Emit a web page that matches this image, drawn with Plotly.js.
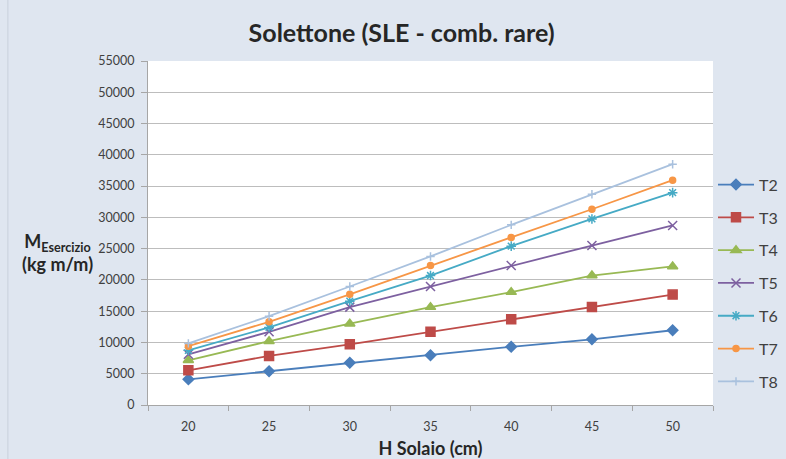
<!DOCTYPE html>
<html>
<head>
<meta charset="utf-8">
<script src="https://cdn.plot.ly/plotly-3.0.1.min.js"></script>
<style>html,body{margin:0;padding:0;background:#dfe6f0;}#chart{width:786px;height:459px;}</style>
</head>
<body>
<div id="chart"></div>
<script>
var categories = ["20", "25", "30", "35", "40", "45", "50"];
var seriesNames = ["T2", "T3", "T4", "T5", "T6", "T7", "T8"];
var T2 = [4100, 5400, 6750, 7950, 9300, 10500, 11950];
var T3 = [5550, 7850, 9700, 11700, 13700, 15650, 17650];
var T4 = [7150, 10200, 13000, 15650, 18050, 20700, 22150];
var T5 = [8100, 11700, 15650, 18950, 22300, 25500, 28700];
var T6 = [8750, 12400, 16600, 20700, 25400, 29750, 33950];
var T7 = [9400, 13300, 17700, 22300, 26800, 31300, 35950];
var T8 = [9850, 14200, 18950, 23750, 28800, 33700, 38500];
var yTickVals = [0, 5000, 10000, 15000, 20000, 25000, 30000, 35000, 40000, 45000, 50000, 55000];

var seriesValues = [T2, T3, T4, T5, T6, T7, T8];
var colors = ["#4a7ebb", "#be4b48", "#98b954", "#7d60a0", "#46aac5", "#f79646", "#a9c1de"];
var symbols = ["diamond", "square", "triangle-up", "x-thin-open", "asterisk-open", "circle", "cross-thin-open"];
var sizes = [8, 9, 9, 9, 8, 6, 6];

var data = seriesNames.map(function (name, i) {
  return {
    x: categories,
    y: seriesValues[i],
    name: name,
    type: "scatter",
    mode: "lines+markers",
    legendgroup: name,
    line: {color: colors[i], width: 1.8},
    marker: {symbol: symbols[i], size: sizes[i], color: colors[i], line: {color: colors[i], width: 1.5}}
  };
});

var layout = {
  width: 786,
  height: 459,
  paper_bgcolor: "#dfe6f0",
  plot_bgcolor: "#ffffff",
  margin: {l: 148, r: 73, t: 61, b: 54, autoexpand: false},
  font: {family: "Lato, 'Open Sans', sans-serif", color: "#404040"},
  title: {
    text: "<b>Solettone (SLE - comb. rare)</b>",
    font: {size: 25, color: "#262626", family: "Lato, 'Open Sans', sans-serif"},
    x: 0.511, xanchor: "center", xref: "container",
    y: 0.928, yanchor: "middle", yref: "container"
  },
  xaxis: {
    type: "category",
    range: [-0.5, 6.5],
    showgrid: false,
    showline: true,
    linecolor: "#a6a6a6",
    linewidth: 1,
    ticks: "outside",
    tickson: "boundaries",
    ticklen: 5,
    tickcolor: "#a6a6a6",
    ticklabelstandoff: 10,
    tickfont: {size: 12.5, color: "#404040"},
    zeroline: false,
    title: {text: "<b>H Solaio (cm)</b>", font: {size: 18, color: "#262626"}, standoff: 17}
  },
  yaxis: {
    range: [0, 55000],
    tickvals: yTickVals,
    ticktext: yTickVals.map(String),
    showgrid: true,
    gridcolor: "#bdbdbd",
    gridwidth: 1,
    showline: true,
    linecolor: "#a6a6a6",
    ticks: "outside",
    ticklen: 6,
    tickcolor: "#a6a6a6",
    ticklabelstandoff: 4,
    tickfont: {size: 12.5, color: "#404040"},
    zeroline: false
  },
  legend: {
    x: 1.0, xanchor: "left",
    y: 0.69, yanchor: "top",
    bgcolor: "rgba(0,0,0,0)",
    font: {size: 16, color: "#404040"},
    tracegroupgap: 9,
    itemwidth: 36
  },
  annotations: [{
    text: "<b>M<sub>Esercizio</sub><br>(kg m/m)</b>",
    xref: "paper", yref: "paper",
    x: -0.161, y: 0.443,
    xanchor: "center", yanchor: "middle",
    showarrow: false,
    align: "center",
    font: {size: 18, color: "#262626"}
  }],
  shapes: [{
    type: "line", xref: "paper", yref: "paper",
    x0: -0.248, x1: -0.248, y0: -0.2, y1: 1.2,
    line: {color: "#c8d0dc", width: 1}
  }],
  showlegend: true
};

Plotly.newPlot("chart", data, layout, {displayModeBar: false, staticPlot: true});
</script>
</body>
</html>
